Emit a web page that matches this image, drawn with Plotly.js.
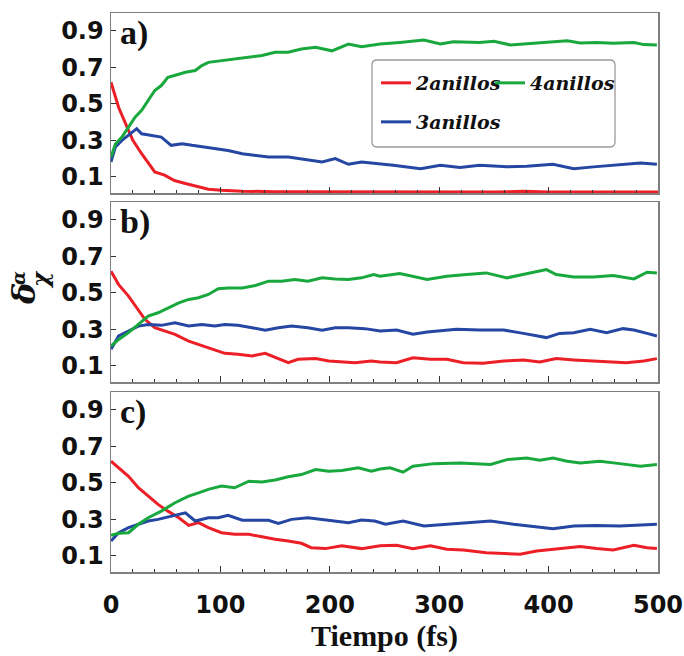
<!DOCTYPE html>
<html>
<head>
<meta charset="utf-8">
<script src="https://cdn.plot.ly/plotly-3.0.1.min.js"></script>
<style>html,body{margin:0;padding:0;background:#fff;}</style>
</head>
<body>
<div id="chart" style="width:684px;height:656px;"></div>
<script>
// ---------- data ----------
const seriesNames = ['2anillos', '3anillos', '4anillos'];
const panelLabels = ['a)', 'b)', 'c)'];
const xTickVals = [0, 100, 200, 300, 400, 500];
const yTickVals = [0.1, 0.3, 0.5, 0.7, 0.9];

// panel a
const a_red_t = [0,7,16,20,28,40,49,58,68,80,89,101,120,150,200,250,300,350,377,400,450,500];
const a_red_v = [0.618,0.48,0.355,0.30,0.227,0.127,0.11,0.08,0.064,0.045,0.033,0.027,0.022,0.019,0.018,0.017,0.017,0.017,0.021,0.017,0.017,0.017];
const a_blue_t = [0,4,10,16,23.5,28,37,46,55,65,74,86,98,107,120,132,144,162,180,193,205,217,229,246,258,283,301,319,337,362,380,404,423,441,459,484,499];
const a_blue_v = [0.182,0.264,0.3,0.327,0.364,0.336,0.327,0.318,0.273,0.282,0.273,0.264,0.255,0.245,0.227,0.218,0.209,0.209,0.191,0.182,0.2,0.169,0.182,0.173,0.164,0.145,0.164,0.151,0.164,0.155,0.158,0.169,0.145,0.155,0.164,0.176,0.169];
const a_green_t = [0,4,10,16,22,28,34,40,46,52,58,68,77,83,89,101,113,126,138,150,162,174,187,202,217,229,246,264,286,301,313,337,350,365,383,398,417,429,444,459,478,487,499];
const a_green_v = [0.209,0.28,0.318,0.373,0.427,0.464,0.518,0.573,0.6,0.645,0.655,0.673,0.682,0.709,0.727,0.736,0.745,0.755,0.764,0.782,0.782,0.8,0.809,0.79,0.827,0.813,0.827,0.836,0.849,0.827,0.84,0.836,0.842,0.822,0.831,0.836,0.845,0.833,0.836,0.831,0.836,0.824,0.822];

// panel b
const b_red_t = [0,7,16,25,31,40,49,58.5,71,80,92,104,116,129,141,153,162,171,187,199,211,223,238,246,261,276,292,307,322,340,359,377,392,407,423,441,459,471,487,499];
const b_red_v = [0.618,0.545,0.482,0.409,0.355,0.309,0.291,0.273,0.236,0.218,0.191,0.169,0.164,0.155,0.169,0.14,0.118,0.136,0.14,0.127,0.122,0.118,0.127,0.122,0.118,0.145,0.136,0.136,0.118,0.115,0.127,0.133,0.122,0.14,0.133,0.127,0.122,0.118,0.127,0.14];
const b_blue_t = [0,7,16,25,34,46,58.5,71,83,95,104,116,129,141,153,165,180,193,205,217,232,246,261,276,289,316,337,359,377,398,410,423,438,453,468,478,490,499];
const b_blue_v = [0.191,0.264,0.291,0.318,0.327,0.322,0.336,0.318,0.327,0.318,0.327,0.322,0.309,0.295,0.309,0.318,0.309,0.295,0.309,0.309,0.304,0.291,0.296,0.273,0.285,0.3,0.296,0.296,0.278,0.255,0.278,0.282,0.3,0.282,0.304,0.296,0.278,0.264];
const b_green_t = [0,7,16,25,34,43,52,62,71,80,89,98,107,120,132,144,156,168,180,193,205,217,229,240,246,264,289,307,325,343,362,380,398,407,423,441,459,478,490,499];
const b_green_v = [0.209,0.245,0.282,0.327,0.373,0.391,0.418,0.445,0.464,0.473,0.491,0.522,0.527,0.527,0.54,0.564,0.564,0.573,0.564,0.582,0.576,0.573,0.582,0.6,0.591,0.605,0.573,0.591,0.6,0.609,0.582,0.605,0.627,0.6,0.587,0.587,0.595,0.576,0.613,0.609];

// panel c
const c_red_t = [0,7,16,25,34,43,52,62,71,80,89,101,113,126,138,150,162,174,183,196,211,229,246,261,276,292,307,322,343,362,374,389,407,429,444,459,478,490,499];
const c_red_v = [0.618,0.582,0.536,0.473,0.427,0.382,0.345,0.309,0.267,0.282,0.255,0.227,0.218,0.218,0.205,0.191,0.182,0.169,0.145,0.14,0.155,0.14,0.155,0.158,0.14,0.155,0.136,0.133,0.118,0.115,0.109,0.127,0.136,0.151,0.14,0.133,0.158,0.145,0.14];
const c_blue_t = [0,7,16,25,34,43,55,68,77,89,98,107,120,132,144,153,165,180,193,205,217,229,241,251,267,286,307,328,347,368,386,404,423,444,465,484,499];
const c_blue_v = [0.182,0.227,0.255,0.273,0.291,0.3,0.318,0.336,0.291,0.309,0.309,0.322,0.295,0.295,0.295,0.278,0.3,0.309,0.3,0.291,0.282,0.296,0.291,0.273,0.291,0.264,0.273,0.282,0.291,0.273,0.26,0.249,0.264,0.267,0.264,0.267,0.273];
const c_green_t = [0,7,16,25,34,46,58.5,71,80,89,101,113,126,138,150,162,174,187,199,211,226,238,246,255,267,276,295,319,347,362,380,392,404,417,429,447,465,484,499];
const c_green_v = [0.213,0.224,0.227,0.273,0.309,0.345,0.391,0.427,0.445,0.464,0.482,0.473,0.509,0.504,0.515,0.533,0.545,0.573,0.564,0.567,0.582,0.564,0.576,0.582,0.558,0.591,0.605,0.609,0.6,0.627,0.636,0.624,0.636,0.618,0.609,0.618,0.605,0.591,0.6];

// ---------- styling / layout ----------
const colors = {red: '#ec1f26', blue: '#2546a3', green: '#19a83d'};
const W = 684, H = 656, L = 111, R = 26, T = 13, B = 84;
const PX = x => (x - L) / (W - L - R);
const PY = y => (H - B - y) / (H - T - B);

const panels = [
  {sfx: '', red: [a_red_t, a_red_v], blue: [a_blue_t, a_blue_v], green: [a_green_t, a_green_v]},
  {sfx: '2', red: [b_red_t, b_red_v], blue: [b_blue_t, b_blue_v], green: [b_green_t, b_green_v]},
  {sfx: '3', red: [c_red_t, c_red_v], blue: [c_blue_t, c_blue_v], green: [c_green_t, c_green_v]}
];

const traces = [];
panels.forEach((p, i) => {
  [['red', 0, 'legend'], ['blue', 1, 'legend3'], ['green', 2, 'legend2']].forEach(([c, k, lg]) => {
    traces.push({
      type: 'scatter', mode: 'lines',
      x: p[c][0], y: p[c][1],
      xaxis: 'x' + p.sfx, yaxis: 'y' + p.sfx,
      name: seriesNames[k],
      line: {color: colors[c], width: 3},
      showlegend: i === 0,
      legend: lg
    });
  });
});

const tickFont = {family: 'DejaVu Sans', size: 24, weight: 'bold', color: '#111'};
function xAxis(anchor, showLabels, title) {
  const ax = {
    anchor: anchor, domain: [0, 1], range: [0, 500],
    tickvals: xTickVals, ticks: 'inside', ticklen: 6, tickwidth: 1, tickcolor: '#333',
    minor: {dtick: 20, tick0: 0, ticks: 'inside', ticklen: 3, tickwidth: 1, tickcolor: '#333'},
    showticklabels: showLabels, tickfont: tickFont, ticklabelstandoff: 11,
    showline: true, mirror: true, linecolor: '#808080', linewidth: 1.5,
    showgrid: false, zeroline: false
  };
  if (title) ax.title = {text: title, font: {family: 'Liberation Serif', size: 30, weight: 'bold', color: '#111'}, standoff: 5};
  return ax;
}
function yAxis(anchor, domain) {
  return {
    anchor: anchor, domain: domain, range: [0.012, 0.997],
    tickvals: yTickVals, ticktext: yTickVals.map(v => v.toFixed(1)),
    ticks: 'inside', ticklen: 5, tickwidth: 1, tickcolor: '#333',
    tickfont: tickFont, ticklabelstandoff: 1,
    showline: true, mirror: true, linecolor: '#808080', linewidth: 1.5,
    showgrid: false, zeroline: false
  };
}

const legendFont = {family: 'DejaVu Serif', size: 19, weight: 'bold', style: 'italic', color: '#111'};
function leg(xp, yp) {
  return {x: PX(xp), y: PY(yp), xanchor: 'left', yanchor: 'middle', bgcolor: 'rgba(0,0,0,0)',
          borderwidth: 0, font: legendFont, itemwidth: 30, orientation: 'v'};
}

// rounded legend frame
const bx0 = 372, bx1 = 615, by0 = 60, by1 = 147, r = 5;
const framePath = `M ${PX(bx0 + r)},${PY(by0)} L ${PX(bx1 - r)},${PY(by0)} Q ${PX(bx1)},${PY(by0)} ${PX(bx1)},${PY(by0 + r)} ` +
  `L ${PX(bx1)},${PY(by1 - r)} Q ${PX(bx1)},${PY(by1)} ${PX(bx1 - r)},${PY(by1)} L ${PX(bx0 + r)},${PY(by1)} ` +
  `Q ${PX(bx0)},${PY(by1)} ${PX(bx0)},${PY(by1 - r)} L ${PX(bx0)},${PY(by0 + r)} Q ${PX(bx0)},${PY(by0)} ${PX(bx0 + r)},${PY(by0)} Z`;

const labelFont = {family: 'Liberation Serif', size: 34, weight: 'bold', color: '#111'};
const annotations = panelLabels.map((t, i) => ({
  text: t, showarrow: false, font: labelFont,
  xref: (i === 0 ? 'x' : 'x' + (i + 1)) + ' domain', yref: (i === 0 ? 'y' : 'y' + (i + 1)) + ' domain',
  x: 0.013, y: 0.89, xanchor: 'left', yanchor: 'middle'
}));
const yTitleFont = {family: 'DejaVu Serif', color: '#111'};
annotations.push(
  {text: '<b><i>δ</i></b>', xref: 'paper', yref: 'paper', x: PX(24), y: PY(294), showarrow: false,
   textangle: -90, font: Object.assign({size: 32}, yTitleFont), xanchor: 'center', yanchor: 'middle'},
  {text: '<b><i>χ</i></b>', xref: 'paper', yref: 'paper', x: PX(39), y: PY(280), showarrow: false,
   textangle: -90, font: Object.assign({size: 23}, yTitleFont), xanchor: 'center', yanchor: 'middle'},
  {text: '<b><i>α</i></b>', xref: 'paper', yref: 'paper', x: PX(18), y: PY(278), showarrow: false,
   textangle: -90, font: Object.assign({size: 18}, yTitleFont), xanchor: 'center', yanchor: 'middle'}
);

const layout = {
  width: W, height: H,
  margin: {l: L, r: R, t: T, b: B},
  paper_bgcolor: '#fff', plot_bgcolor: '#fff',
  showlegend: true,
  xaxis: xAxis('y', false),
  xaxis2: xAxis('y2', false),
  xaxis3: xAxis('y3', true, 'Tiempo (fs)'),
  yaxis: yAxis('x', [PY(193), 1]),
  yaxis2: yAxis('x2', [PY(382), PY(202)]),
  yaxis3: yAxis('x3', [0, PY(392)]),
  legend: leg(376, 83),
  legend2: leg(490, 83),
  legend3: leg(376, 122),
  shapes: [{type: 'path', path: framePath, xref: 'paper', yref: 'paper',
            line: {color: '#9a9a9a', width: 1.3}, fillcolor: 'rgba(0,0,0,0)', layer: 'below'}],
  annotations: annotations
};

Plotly.newPlot('chart', traces, layout, {displayModeBar: false, staticPlot: true});
</script>
</body>
</html>
